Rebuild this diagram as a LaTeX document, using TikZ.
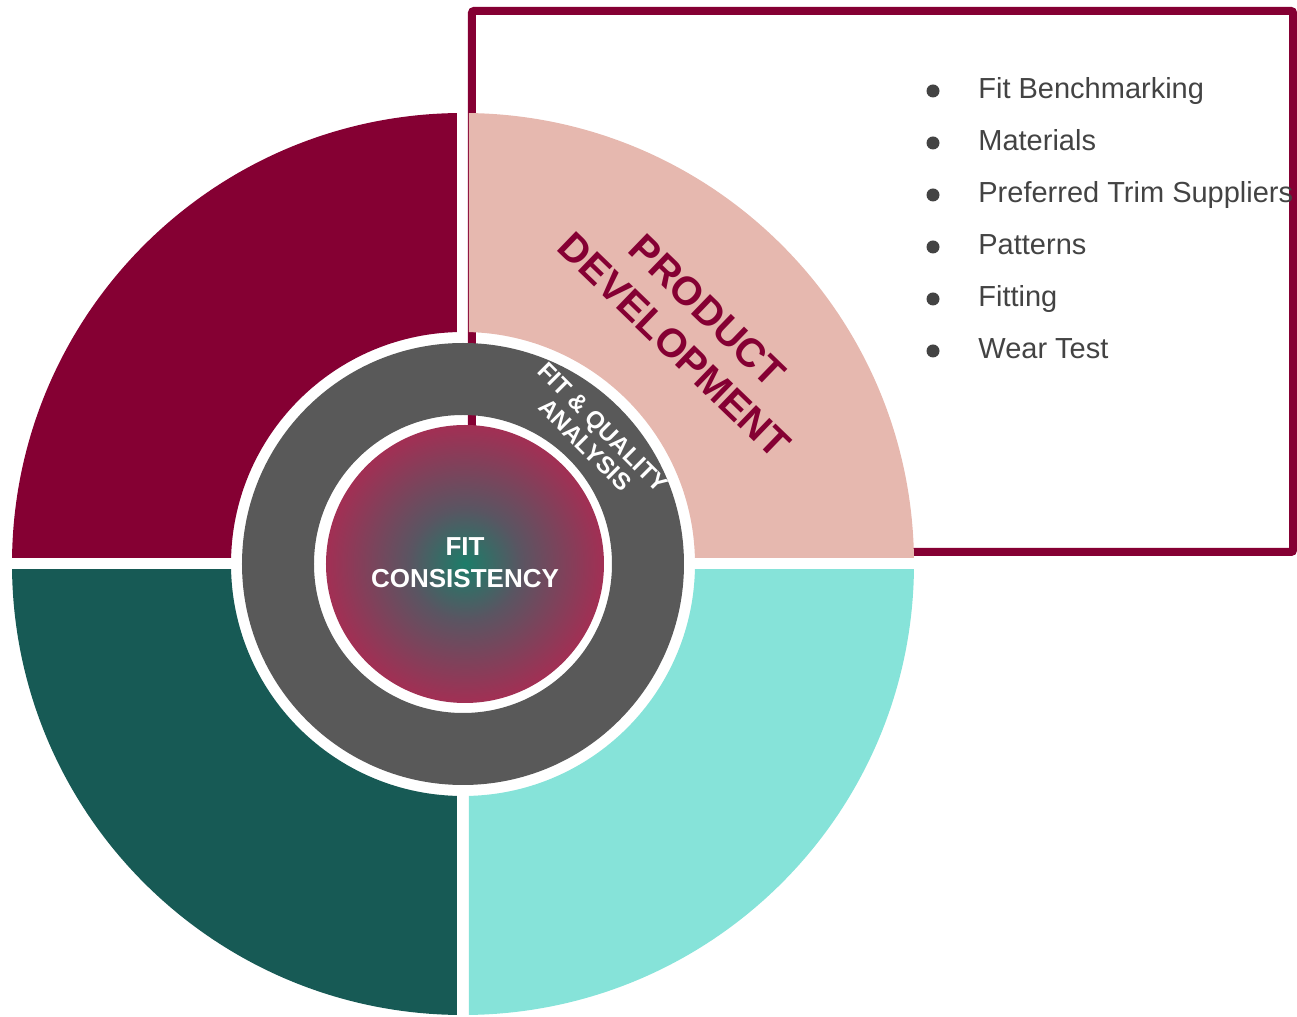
\documentclass[tikz,border=0pt]{standalone}
\usepackage{fontspec}
\setmainfont{Liberation Sans}
\usepackage{tikz}
\definecolor{wine}{HTML}{850033}
\definecolor{blush}{HTML}{E6B8AF}
\definecolor{pine}{HTML}{175A55}
\definecolor{mint}{HTML}{86E3D9}
\definecolor{slate}{HTML}{595959}
\definecolor{ink}{HTML}{434343}
\definecolor{core}{HTML}{1C7D69}
\definecolor{haze}{HTML}{5A5562}
\definecolor{rim}{HTML}{AC2A52}
\pgfdeclareradialshading{fitglow}{\pgfpoint{0bp}{0bp}}{%
  color(0bp)=(core); color(3bp)=(core!70!haze); color(10bp)=(haze);
  color(27bp)=(rim); color(50bp)=(rim)}
\tikzset{
  frame/.style={draw=wine,line width=4pt,rounded corners=1pt},
  hub/.style={font=\bfseries\fontsize{13}{16}\selectfont,text=white,align=center,inner sep=0pt},
  ringlbl/.style={font=\bfseries\fontsize{12}{12.5}\selectfont,text=white,align=center,inner sep=0pt,rotate=-45},
  seglbl/.style={font=\bfseries\fontsize{20}{24}\selectfont,text=wine,align=center,inner sep=0pt,rotate=-44},
  item/.style={anchor=base west,inner sep=0pt,font=\fontsize{14.5}{17}\selectfont,text=ink},
  dot/.style={circle,fill=ink,inner sep=0pt,minimum size=6.5pt},
}
% one quarter of the outer band, cut back by the white gap
\newcommand{\band}[4]{%
  \begin{scope}
    \clip (#2*6,#3*6) rectangle (#2*470,#3*470);
    \fill[#1,even odd rule] (0,0) circle (451) circle (232);
  \end{scope}
  \coordinate (q#4) at (#2*320,#3*320);}
\newcommand{\li}[2]{%
  \node[item] (i#1) at (515,{465-#1*52}) {#2};
  \node[dot] (d#1) at (470,{473-#1*52}) {};}

\begin{document}
\begin{tikzpicture}[x=0.5pt,y=0.5pt]
\useasboundingbox (-463,-453) rectangle (834,564);
% frame behind the wheel
\draw[frame] (417,12) -- (830,12) -- (830,553) -- (9,553) -- (9,12);
% outer band
\band{wine}{-1}{1}{nw}
\band{blush}{1}{1}{ne}
\band{pine}{-1}{-1}{sw}
\band{mint}{1}{-1}{se}
% middle ring and hub
\fill[slate,even odd rule] (0,0) circle (221) circle (149);
\shade[shading=fitglow] (2,0) circle (139);
\node[hub] (hub) at (2,1) {FIT\\CONSISTENCY};
\node[ringlbl] (ring) at (131,128) {FIT \& QUALITY\\ANALYSIS};
\node[seglbl] (pd) at (228,236) {PRODUCT\\DEVELOPMENT};
% list in the frame
\li{0}{Fit Benchmarking}
\li{1}{Materials}
\li{2}{Preferred Trim Suppliers}
\li{3}{Patterns}
\li{4}{Fitting}
\li{5}{Wear Test}
\end{tikzpicture}
\end{document}
